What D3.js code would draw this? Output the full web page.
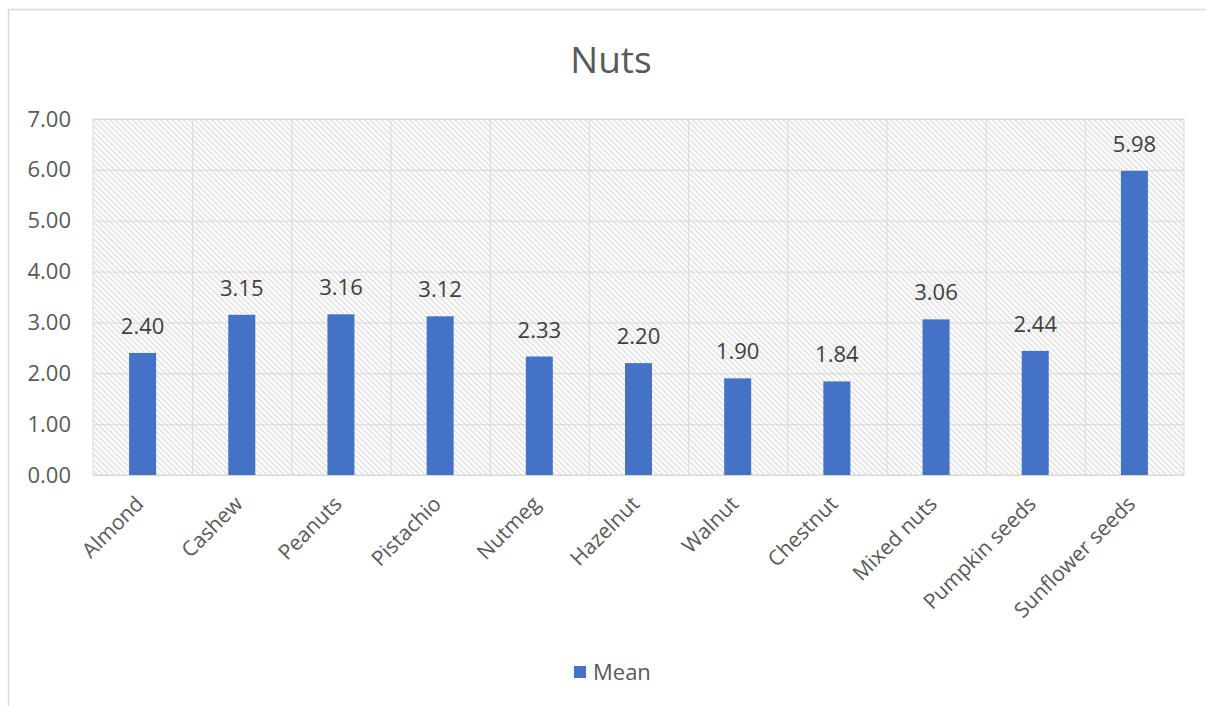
<!DOCTYPE html>
<html>
<head>
<meta charset="utf-8">
<script src="https://cdn.jsdelivr.net/npm/d3@7"></script>
<style>
  body { margin: 0; background: #fff; }
  svg text { font-family: "Open Sans", sans-serif; }
</style>
</head>
<body>
<svg width="1206" height="706"></svg>
<script>
// chart data
var categories = ["Almond", "Cashew", "Peanuts", "Pistachio", "Nutmeg", "Hazelnut",
    "Walnut", "Chestnut", "Mixed nuts", "Pumpkin seeds", "Sunflower seeds"];
var means = [2.40, 3.15, 3.16, 3.12, 2.33, 2.20, 1.90, 1.84, 3.06, 2.44, 5.98];
var yTicks = [0, 1, 2, 3, 4, 5, 6, 7];
var seriesName = "Mean";
var title = "Nuts";

function main() {
    var svg = d3.select("svg");
    var left = 93, right = 1184, top = 119, bottom = 475;

    var xScale = d3.scaleBand()
        .domain(categories)
        .range([left, right])
        .paddingInner(0)
        .paddingOuter(0);
    var yScale = d3.scaleLinear()
        .domain([0, 7])
        .range([bottom, top]);

    // hatch pattern for plot background
    var pat = svg.append("defs").append("pattern")
        .attr("id", "hatch")
        .attr("patternUnits", "userSpaceOnUse")
        .attr("width", 4)
        .attr("height", 4)
        .attr("patternTransform", "rotate(-45)");
    pat.append("rect").attr("width", 4).attr("height", 4).attr("fill", "#fff");
    pat.append("line")
        .attr("x1", 1).attr("y1", 0).attr("x2", 1).attr("y2", 4)
        .attr("stroke", "#d6d6d6").attr("stroke-width", 1.2);

    // outer chart border
    svg.append("rect")
        .attr("x", 8.5).attr("y", 9.5)
        .attr("width", 1220).attr("height", 720)
        .attr("fill", "none")
        .attr("stroke", "#d9d9d9")
        .attr("stroke-width", 1.5);

    svg.append("text")
        .attr("x", 611).attr("y", 73)
        .attr("text-anchor", "middle")
        .attr("font-size", 37)
        .attr("fill", "#595959")
        .text(title);

    svg.append("rect")
        .attr("x", left).attr("y", top)
        .attr("width", right - left).attr("height", bottom - top)
        .attr("fill", "url(#hatch)")
        .attr("stroke", "#d9d9d9");

    // gridlines
    svg.append("g")
        .selectAll("line")
        .data(yTicks)
        .join("line")
        .attr("x1", left).attr("x2", right)
        .attr("y1", d => yScale(d) + 0.5).attr("y2", d => yScale(d) + 0.5)
        .attr("stroke", "#d9d9d9");
    svg.append("g")
        .selectAll("line")
        .data(categories.slice(1))
        .join("line")
        .attr("x1", d => xScale(d) + 0.5).attr("x2", d => xScale(d) + 0.5)
        .attr("y1", top).attr("y2", bottom)
        .attr("stroke", "#d9d9d9");

    // y axis labels
    var yAxis = svg.append("g")
        .attr("transform", "translate(" + (left - 22) + ",0)")
        .call(d3.axisLeft(yScale).tickValues(yTicks).tickFormat(d3.format(".2f")).tickSize(0).tickPadding(0));
    yAxis.select(".domain").remove();
    yAxis.selectAll("text")
        .attr("font-size", 22)
        .attr("fill", "#595959")
        .style("font-family", "Open Sans, sans-serif");

    // x axis labels
    var xAxis = svg.append("g")
        .attr("transform", "translate(0," + bottom + ")")
        .call(d3.axisBottom(xScale).tickSize(0).tickPadding(0));
    xAxis.select(".domain").remove();
    xAxis.selectAll("text")
        .attr("font-size", 21)
        .attr("fill", "#595959")
        .style("font-family", "Open Sans, sans-serif")
        .attr("text-anchor", "end")
        .attr("dy", "0.35em")
        .attr("transform", "translate(-3,25) rotate(-45)");

    var barW = 27;
    var bars = svg.append("g");
    bars.selectAll("rect")
        .data(means)
        .join("rect")
        .attr("x", (d, i) => xScale(categories[i]) + xScale.bandwidth() / 2 - barW / 2)
        .attr("y", d => yScale(d))
        .attr("width", barW)
        .attr("height", d => bottom - yScale(d))
        .attr("fill", "#4472c4");

    bars.selectAll("text")
        .data(means)
        .join("text")
        .attr("x", (d, i) => xScale(categories[i]) + xScale.bandwidth() / 2)
        .attr("y", d => yScale(d) - 19)
        .attr("text-anchor", "middle")
        .attr("font-size", 22)
        .attr("fill", "#404040")
        .text(d => d.toFixed(2));

    // legend
    svg.append("rect")
        .attr("x", 574).attr("y", 666)
        .attr("width", 12).attr("height", 12)
        .attr("fill", "#4472c4");
    svg.append("text")
        .attr("x", 593).attr("y", 680)
        .attr("font-size", 22)
        .attr("fill", "#595959")
        .text(seriesName);
}
main();
</script>
</body>
</html>
